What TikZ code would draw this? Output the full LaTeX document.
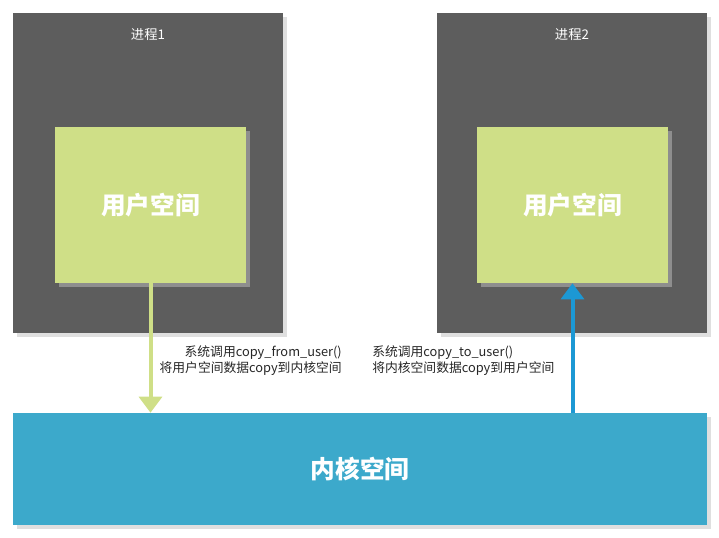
\documentclass[tikz,border=0pt]{standalone}
\usepackage{fontspec}
\setmainfont{Noto Sans CJK SC}
\usetikzlibrary{arrows.meta,shadows}
\definecolor{procgray}{HTML}{5D5D5D}
\definecolor{usergreen}{HTML}{CFDF87}
\definecolor{kernblue}{HTML}{3CA9CB}
\definecolor{arrowblue}{HTML}{1C98D4}
\tikzset{
  boxshadow/.style={drop shadow={shadow xshift=3pt, shadow yshift=-3pt, fill=black!25, opacity=0.5}},
  procbox/.style={fill=procgray, minimum width=202.5pt, minimum height=240pt, inner sep=0pt, boxshadow},
  userbox/.style={fill=usergreen, minimum width=143.25pt, minimum height=117pt, inner sep=0pt, boxshadow,
    text=white, font=\bfseries\fontsize{18.5}{22}\selectfont},
  kernbox/.style={fill=kernblue, minimum width=520.5pt, minimum height=84pt, inner sep=0pt, boxshadow,
    text=white, font=\bfseries\fontsize{18.5}{22}\selectfont},
  proctitle/.style={text=white, font=\fontsize{10}{12}\selectfont},
  note/.style={font=\fontsize{9.6}{12}\selectfont, text=black!85, inner sep=0pt},
  flow/.style={line width=3pt, -{Triangle[width=17pt, length=12pt]}}
}
\begin{document}
\begin{tikzpicture}[x=0.75pt, y=-0.75pt]
\useasboundingbox (0,0) rectangle (719,537);
% processes
\node[procbox] (p1) at (148,173) {};
\node[procbox] (p2) at (572,173) {};
\node[proctitle] (t1) at (148,35) {进程1};
\node[proctitle] (t2) at (572,35) {进程2};
% user spaces
\node[userbox] (u1) at (150.5,205) {用户空间};
\node[userbox] (u2) at (572.5,205) {用户空间};
% kernel
\node[kernbox] (k) at (360,469) {内核空间};
% copies
\draw[flow, usergreen] (u1.south) -- (u1.south |- k.north);
\draw[flow, arrowblue] (u2.south |- k.north) -- (u2.south);
\node[note, align=right, anchor=east] (n1) at (342,361) {系统调用copy\_from\_user()\\将用户空间数据copy到内核空间};
\node[note, align=left, anchor=west] (n2) at (372,361) {系统调用copy\_to\_user()\\将内核空间数据copy到用户空间};
\end{tikzpicture}
\end{document}
